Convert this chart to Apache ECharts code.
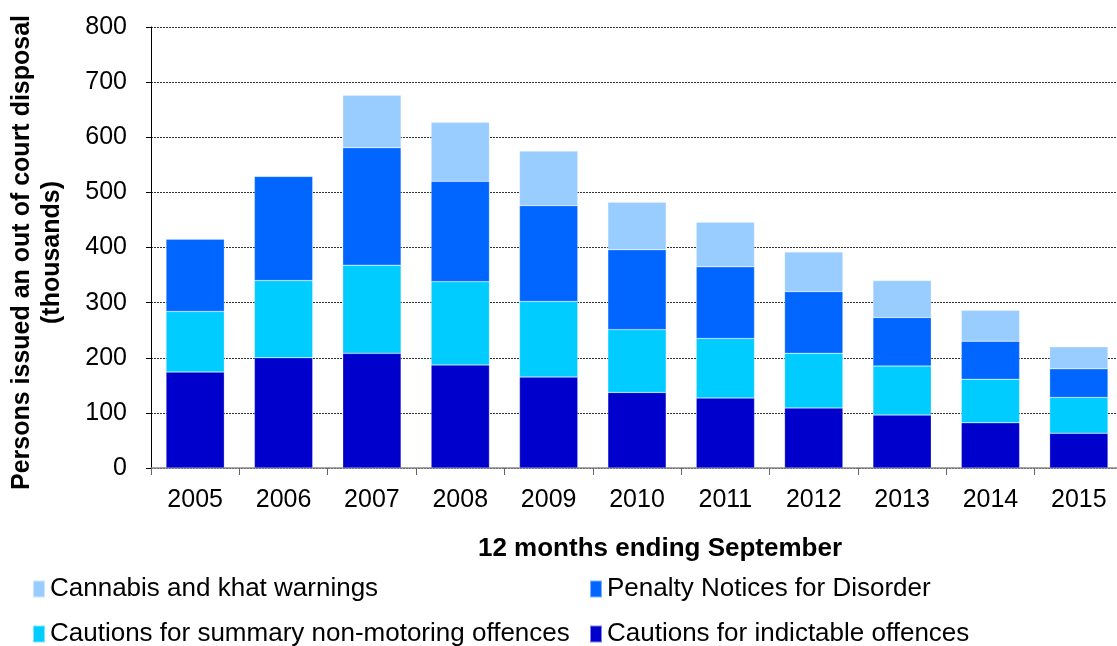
<!DOCTYPE html>
<html><head><meta charset="utf-8">
<script src="https://cdn.jsdelivr.net/npm/echarts@6/dist/echarts.min.js"></script>
<style>html,body{margin:0;padding:0;background:#fff}#c{width:1117px;height:646px}</style>
</head><body><div id="c"></div>
<script>
const years = ['2005','2006','2007','2008','2009','2010','2011','2012','2013','2014','2015'];
const indictable = [174,200,208,187,165,137,127,109,96,82,63];
const summary = [110,140,160,151,137,114,108,99,89,79,65];
const pnd = [131,189,213,182,174,145,130,112,88,69,52];
const cannabis = [null,null,95,107,99,86,81,72,67,56,40];
const yTicks = [0,100,200,300,400,500,600,700,800];

const font = 'Liberation Sans, Arial, sans-serif';
const chart = echarts.init(document.getElementById('c'));
function mk(name, data, color){
  return {name, type:'bar', stack:'t', data, barCategoryGap:'34%',
    itemStyle:{color, borderColor:'rgba(255,255,255,0.5)', borderWidth:0.5}};
}
function leg(name, left, top){
  return {data:[name], left, top, itemWidth:12, itemHeight:17, itemGap:0, icon:'rect', padding:0,
    textStyle:{fontFamily:font, fontSize:26, color:'#000'}};
}
chart.setOption({
  animation:false,
  grid:{left:151, top:27, width:972, height:441, outerBoundsMode:'none', containLabel:false},
  legend:[
    leg('Cannabis and khat warnings', 32, 576),
    leg('Penalty Notices for Disorder', 589, 576),
    leg('Cautions for summary non-motoring offences', 32, 621),
    leg('Cautions for indictable offences', 589, 621)
  ],
  xAxis:{type:'category', data:years,
    name:'12 months ending September', nameLocation:'middle', nameGap:68,
    nameTextStyle:{fontFamily:font, fontSize:26, fontWeight:'bold', color:'#000', padding:[0,0,0,46]},
    axisLine:{lineStyle:{color:'#888', width:1.5}},
    axisTick:{show:true, length:7, lineStyle:{color:'#666'}},
    axisLabel:{fontFamily:font, fontSize:25, color:'#000', margin:20}},
  yAxis:{type:'value', min:0, max:800, interval:100,
    name:'Persons issued an out of court disposal\n(thousands)', nameLocation:'middle', nameRotate:90, nameGap:84,
    nameTextStyle:{fontFamily:font, fontSize:25, fontWeight:'bold', color:'#000', lineHeight:30, padding:[0,10,0,0]},
    axisLine:{show:true, lineStyle:{color:'#000', width:1}},
    axisTick:{show:true, length:5, lineStyle:{color:'#000'}},
    axisLabel:{fontFamily:font, fontSize:25, color:'#000', margin:24,
      formatter:v=> yTicks.includes(v) ? String(v) : ''},
    splitLine:{show:true, lineStyle:{color:'#333', type:[2,1], width:1}}},
  series:[
    mk('Cautions for indictable offences', indictable, '#0000CC'),
    mk('Cautions for summary non-motoring offences', summary, '#00CCFF'),
    mk('Penalty Notices for Disorder', pnd, '#0066FF'),
    mk('Cannabis and khat warnings', cannabis, '#99CCFF')
  ]
});
</script></body></html>
